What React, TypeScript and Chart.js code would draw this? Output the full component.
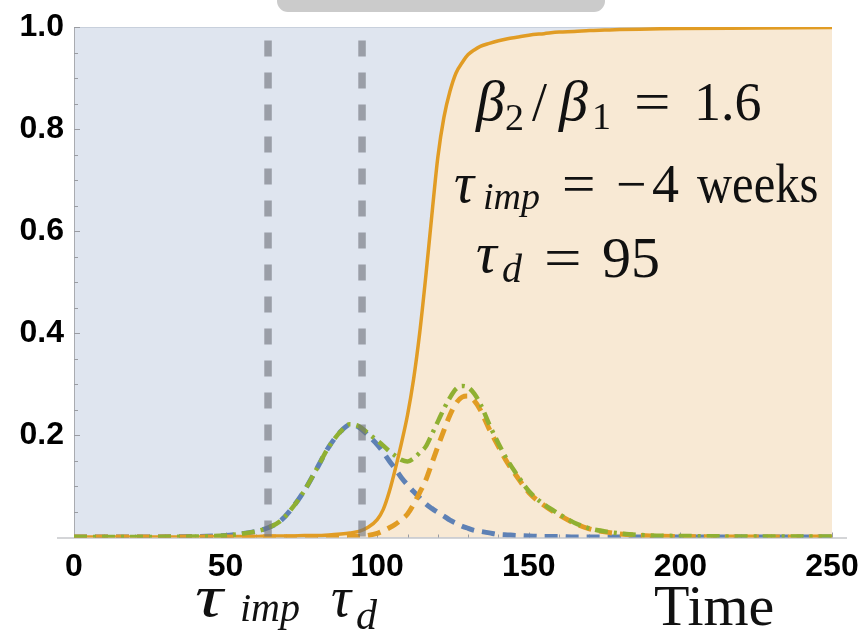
import React, { useEffect, useRef } from "react";
import { Chart, registerables } from "chart.js";

Chart.register(...registerables);

// Time axis (days) shared by every series
const time = [
  0, 20, 40, 50, 55, 60, 64, 68, 72, 76,
  80, 84, 88, 91, 94, 97, 100, 102, 104, 106,
  108, 110, 112, 114, 116, 118, 120, 122, 124, 126,
  128, 130, 132, 134, 137, 140, 143, 146, 150, 155,
  160, 165, 170, 175, 180, 190, 200, 225, 250,
];

// Infected fraction, resident strain (blue dashed)
const variant1 = [
  0.001, 0.001, 0.002, 0.004, 0.007, 0.012, 0.019, 0.032, 0.058, 0.092,
  0.134, 0.177, 0.208, 0.221, 0.216, 0.2, 0.182, 0.167, 0.15, 0.134,
  0.117, 0.103, 0.09, 0.078, 0.066, 0.057, 0.049, 0.042, 0.034, 0.028,
  0.022, 0.018, 0.014, 0.012, 0.009, 0.006, 0.005, 0.004, 0.003, 0.002,
  0.002, 0.001, 0.001, 0.001, 0.001, 0.001, 0.001, 0.001, 0.001,
];

// Infected fraction, new strain (orange dashed)
const variant2 = [
  0.001, 0.001, 0.001, 0.001, 0.001, 0.001, 0.001, 0.001, 0.001, 0.001,
  0.001, 0.001, 0.001, 0.002, 0.002, 0.004, 0.008, 0.013, 0.019, 0.026,
  0.035, 0.046, 0.065, 0.088, 0.112, 0.145, 0.178, 0.21, 0.24, 0.263,
  0.275, 0.277, 0.268, 0.25, 0.212, 0.178, 0.146, 0.12, 0.088, 0.063,
  0.044, 0.028, 0.017, 0.011, 0.007, 0.003, 0.002, 0.001, 0.001,
];

// Total infected fraction (green dash-dot)
const totalInfected = [
  0.001, 0.001, 0.002, 0.004, 0.007, 0.012, 0.019, 0.032, 0.058, 0.092,
  0.134, 0.177, 0.208, 0.222, 0.218, 0.204, 0.19, 0.18, 0.169, 0.16,
  0.152, 0.149, 0.155, 0.166, 0.178, 0.202, 0.227, 0.252, 0.274, 0.291,
  0.297, 0.294, 0.282, 0.262, 0.221, 0.184, 0.151, 0.124, 0.091, 0.065,
  0.046, 0.029, 0.018, 0.012, 0.008, 0.004, 0.003, 0.002, 0.002,
];

// Share of the new strain among infections (orange solid, filled)
const variant2Share = [
  0.001, 0.001, 0.001, 0.002, 0.002, 0.002, 0.003, 0.003, 0.003, 0.004,
  0.004, 0.005, 0.007, 0.009, 0.012, 0.02, 0.035, 0.055, 0.09, 0.135,
  0.185, 0.24, 0.31, 0.4, 0.51, 0.63, 0.745, 0.823, 0.874, 0.91,
  0.93, 0.946, 0.955, 0.962, 0.968, 0.973, 0.977, 0.98, 0.984, 0.987,
  0.99, 0.991, 0.993, 0.994, 0.995, 0.996, 0.997, 0.998, 0.999,
];

// Intervention and detection times
const tauImp = 64;
const tauD = 95;
const markerTop = 0.9735;

const xMax = 250;
const xStep = 50;
const xMinorStep = 10;
const yStep = 0.2;
const yMinorStep = 0.05;

const BLUE = "#5E81B5";
const ORANGE = "#E19C24";
const GREEN = "#8FB032";
const SERIF = '"Liberation Serif", "DejaVu Serif", serif';
const TICK_FONT = { family: '"Liberation Sans", Arial, sans-serif', size: 32, weight: "bold" };

const pts = (ys: number[]) => time.map((t, i) => ({ x: t, y: ys[i] }));

type Run = { text: string; x: number; y: number; font: string; sx?: number };

// Math-style annotation text
const notes: Run[] = [
  { text: "β", x: 476, y: 120, font: `italic 58px ${SERIF}` },
  { text: "2", x: 505, y: 130, font: `38px ${SERIF}` },
  { text: "/", x: 532, y: 120, font: `54px ${SERIF}` },
  { text: "β", x: 559, y: 120, font: `italic 58px ${SERIF}` },
  { text: "1", x: 592, y: 129, font: `38px ${SERIF}` },
  { text: "=", x: 634, y: 120, font: `54px ${SERIF}`, sx: 1.2 },
  { text: "1.6", x: 694, y: 120, font: `54px ${SERIF}` },

  { text: "τ", x: 454, y: 202, font: `italic 56px ${SERIF}` },
  { text: "imp", x: 483, y: 209, font: `italic 38px ${SERIF}` },
  { text: "=", x: 562, y: 202, font: `54px ${SERIF}`, sx: 1.1 },
  { text: "−", x: 616, y: 202, font: `54px ${SERIF}` },
  { text: "4", x: 652, y: 202, font: `54px ${SERIF}` },
  { text: "weeks", x: 697, y: 202, font: `54px ${SERIF}`, sx: 0.9 },

  { text: "τ", x: 476, y: 272, font: `italic 58px ${SERIF}` },
  { text: "d", x: 502, y: 282, font: `italic 40px ${SERIF}` },
  { text: "=", x: 544, y: 277, font: `58px ${SERIF}`, sx: 1.15 },
  { text: "95", x: 602, y: 277, font: `58px ${SERIF}` },

  { text: "τ", x: 195, y: 616, font: `italic 60px ${SERIF}`, sx: 1.3 },
  { text: "imp", x: 240, y: 621, font: `italic 40px ${SERIF}` },
  { text: "τ", x: 331, y: 616, font: `italic 56px ${SERIF}` },
  { text: "d", x: 356, y: 629, font: `italic 42px ${SERIF}` },
  { text: "Time", x: 654, y: 625, font: `58px ${SERIF}` },
];

const framePlugin = {
  id: "frame",
  beforeDraw(chart: any) {
    const { ctx, chartArea: a } = chart;
    ctx.save();
    ctx.fillStyle = "#dfe5ef";
    ctx.fillRect(a.left, a.top, a.right - a.left, a.bottom - a.top);
    // tab at the top edge
    ctx.fillStyle = "#cbcbcb";
    ctx.beginPath();
    ctx.roundRect(277, -14, 328, 26, 11);
    ctx.fill();
    ctx.restore();
  },
  beforeDatasetsDraw(chart: any) {
    const { ctx, chartArea: a, scales } = chart;
    const xs = scales.x;
    const ys = scales.y;
    ctx.save();
    ctx.lineWidth = 1;
    ctx.strokeStyle = "#c8d0dc";
    ctx.beginPath();
    ctx.moveTo(a.left, a.top + 0.5);
    ctx.lineTo(a.right, a.top + 0.5);
    ctx.stroke();
    ctx.strokeStyle = "#a9abb0";
    ctx.beginPath();
    ctx.moveTo(a.left - 17, a.bottom + 0.5);
    ctx.lineTo(a.right + 15, a.bottom + 0.5);
    ctx.moveTo(a.left + 0.5, a.top);
    ctx.lineTo(a.left + 0.5, a.bottom);
    ctx.stroke();
    ctx.strokeStyle = "#9a9ca2";
    ctx.beginPath();
    for (let t = xMinorStep; t <= xMax + 0.01; t += xMinorStep) {
      const px = Math.round(xs.getPixelForValue(t)) + 0.5;
      const len = t % xStep === 0 ? 5 : 3;
      ctx.moveTo(px, a.bottom);
      ctx.lineTo(px, a.bottom - len);
    }
    for (let k = 1; k * yMinorStep <= 1.0001; k++) {
      const v = k * yMinorStep;
      const py = Math.round(ys.getPixelForValue(v)) + 0.5;
      const len = k % 4 === 0 ? 6 : 4;
      ctx.moveTo(a.left, py);
      ctx.lineTo(a.left + len, py);
    }
    ctx.stroke();
    ctx.restore();
  },
  afterDraw(chart: any) {
    const { ctx } = chart;
    ctx.save();
    ctx.fillStyle = "#111";
    ctx.textBaseline = "alphabetic";
    ctx.textAlign = "left";
    for (const r of notes) {
      ctx.font = r.font;
      ctx.save();
      ctx.translate(r.x, r.y);
      ctx.scale(r.sx ?? 1, 1);
      ctx.fillText(r.text, 0, 0);
      ctx.restore();
    }
    ctx.restore();
  },
};

export default function App() {
  const ref = useRef<HTMLCanvasElement | null>(null);

  useEffect(() => {
    if (!ref.current) return;
    const marker = (t: number) => [
      { x: t, y: markerTop },
      { x: t, y: 0 },
    ];
    const markerStyle = {
      borderColor: "rgba(112,114,122,0.62)",
      borderWidth: 7.5,
      borderDash: [16, 16],
      pointRadius: 0,
      fill: false,
      order: 1,
    };
    const chart = new Chart(ref.current, {
      type: "line",
      data: {
        datasets: [
          { label: "τimp", data: marker(tauImp), ...markerStyle },
          { label: "τd", data: marker(tauD), ...markerStyle },
          {
            label: "total",
            data: pts(totalInfected),
            borderColor: GREEN,
            borderWidth: 4.5,
            borderDash: [13, 6, 3, 6],
            pointRadius: 0,
            cubicInterpolationMode: "monotone",
            fill: false,
            order: 3,
          },
          {
            label: "variant 2",
            data: pts(variant2),
            borderColor: ORANGE,
            borderWidth: 5,
            borderDash: [13, 8],
            pointRadius: 0,
            cubicInterpolationMode: "monotone",
            fill: false,
            order: 4,
          },
          {
            label: "variant 1",
            data: pts(variant1),
            borderColor: BLUE,
            borderWidth: 5,
            borderDash: [13, 8],
            pointRadius: 0,
            cubicInterpolationMode: "monotone",
            fill: false,
            order: 5,
          },
          {
            label: "share",
            data: pts(variant2Share),
            borderColor: ORANGE,
            borderWidth: 3.5,
            backgroundColor: "#f8e9d4",
            pointRadius: 0,
            cubicInterpolationMode: "monotone",
            fill: "origin",
            order: 10,
          },
        ],
      },
      options: {
        responsive: false,
        devicePixelRatio: 1,
        animation: false,
        layout: { padding: { left: 0, top: 27, right: 28, bottom: 0 } },
        plugins: {
          legend: { display: false },
          tooltip: { enabled: false },
          filler: { propagate: false, drawTime: "beforeDatasetsDraw" },
        },
        scales: {
          x: {
            type: "linear",
            min: 0,
            max: xMax,
            grid: { display: false, drawTicks: false },
            border: { display: false },
            ticks: {
              stepSize: xStep,
              autoSkip: false,
              maxRotation: 0,
              padding: 10,
              color: "#000",
              font: TICK_FONT,
            },
            afterFit: (s: any) => {
              s.height = 97.5;
              s.paddingLeft = 0;
              s.paddingRight = 0;
            },
          },
          y: {
            type: "linear",
            min: 0,
            max: 1,
            grid: { display: false, drawTicks: false },
            border: { display: false },
            ticks: {
              stepSize: yStep,
              autoSkip: false,
              padding: 10,
              color: "#000",
              font: TICK_FONT,
              callback: (v: any) => (Number(v) === 0 ? "" : Number(v).toFixed(1)),
            },
            afterFit: (s: any) => {
              s.width = 74;
              s.paddingTop = 0;
              s.paddingBottom = 0;
            },
          },
        },
      },
      plugins: [framePlugin],
    } as any);
    return () => chart.destroy();
  }, []);

  return (
    <div style={{ position: "absolute", left: 0, top: 0, width: 860, height: 635, background: "#fff" }}>
      <canvas ref={ref} width={860} height={635} style={{ display: "block" }} />
    </div>
  );
}
